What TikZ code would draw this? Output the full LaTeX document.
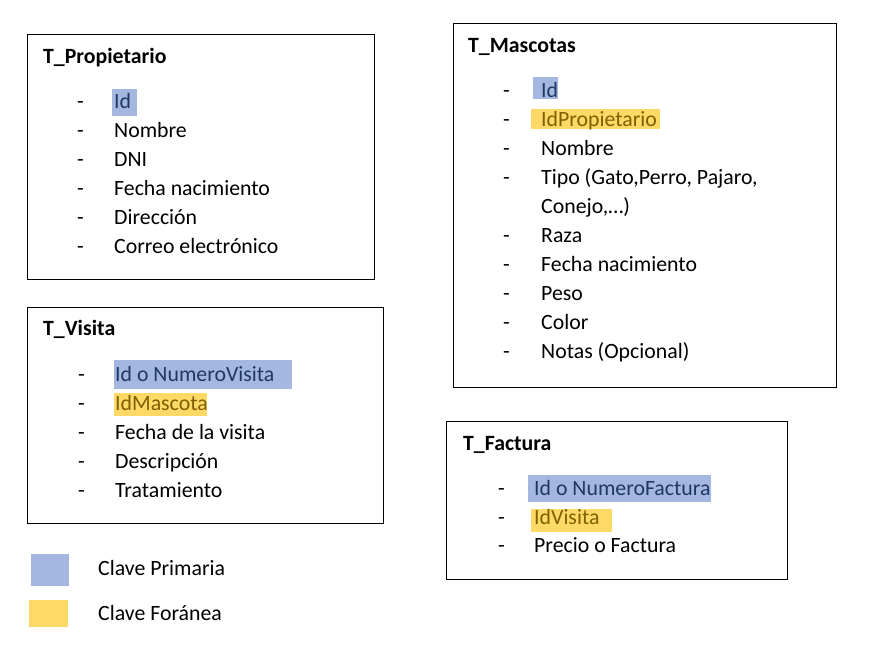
\documentclass[tikz,border=0pt]{standalone}
\usepackage{fontspec}
\setmainfont{Carlito}
\definecolor{pkfill}{HTML}{A3B7E0}
\definecolor{fkfill}{HTML}{FFD966}
\definecolor{pktext}{HTML}{1F3864}
\definecolor{fktext}{HTML}{7F6000}
\begin{document}
\begin{tikzpicture}[x=1pt,y=-1pt,
  tbl/.style={draw=black, line width=1.3pt, inner sep=0pt, anchor=north west},
  ttl/.style={font=\bfseries\fontsize{21.8}{26}\selectfont, anchor=base west, inner sep=0pt},
  itm/.style={font=\fontsize{21.8}{26}\selectfont, anchor=base west, inner sep=0pt},
  pkitm/.style={itm, text=pktext},
  fkitm/.style={itm, text=fktext},
  pk/.style={fill=pkfill, inner sep=0pt, anchor=north west},
  fk/.style={fill=fkfill, inner sep=0pt, anchor=north west}]
\useasboundingbox (0,0) rectangle (880,646);
\fill[white] (0,0) rectangle (880,646);

% ---------- tables ----------
\node[tbl, minimum width=347pt, minimum height=245pt] (tprop) at (27,34) {};
\node[tbl, minimum width=383pt, minimum height=364pt] (tmasc) at (453,23) {};
\node[tbl, minimum width=356pt, minimum height=216pt] (tvis) at (27,307) {};
\node[tbl, minimum width=341pt, minimum height=158pt] (tfac) at (446,421) {};

% ---------- highlights ----------
\node[pk, minimum width=25pt, minimum height=27pt] (hp1) at (112,89) {};
\node[pk, minimum width=25pt, minimum height=22pt] (hm1) at (533,77) {};
\node[fk, minimum width=129pt, minimum height=20pt] (hm2) at (531,109) {};
\node[pk, minimum width=178pt, minimum height=29pt] (hv1) at (114,360) {};
\node[fk, minimum width=93pt, minimum height=23pt] (hv2) at (114,393) {};
\node[pk, minimum width=183pt, minimum height=27pt] (hf1) at (528,475) {};
\node[fk, minimum width=81pt, minimum height=23pt] (hf2) at (531,509) {};

% ---------- T_Propietario ----------
\node[ttl] (tp) at (43,63) {T\_Propietario};
\node[itm] (dp1) at (77,108) {-};
\node[itm] (dp2) at (77,137) {-};
\node[itm] (dp3) at (77,166) {-};
\node[itm] (dp4) at (77,195) {-};
\node[itm] (dp5) at (77,224) {-};
\node[itm] (dp6) at (77,253) {-};
\node[pkitm] (p1) at (114,108) {Id};
\node[itm] (p2) at (114,137) {Nombre};
\node[itm] (p3) at (114,166) {DNI};
\node[itm] (p4) at (114,195) {Fecha nacimiento};
\node[itm] (p5) at (114,224) {Dirección};
\node[itm] (p6) at (114,253) {Correo electrónico};

% ---------- T_Mascotas ----------
\node[ttl] (tm) at (468,52) {T\_Mascotas};
\node[itm] (dm1) at (503,97) {-};
\node[itm] (dm2) at (503,126) {-};
\node[itm] (dm3) at (503,155) {-};
\node[itm] (dm4) at (503,184) {-};
\node[itm] (dm5) at (503,242) {-};
\node[itm] (dm6) at (503,271) {-};
\node[itm] (dm7) at (503,300) {-};
\node[itm] (dm8) at (503,329) {-};
\node[itm] (dm9) at (503,358) {-};
\node[pkitm] (m1) at (541,97) {Id};
\node[fkitm] (m2) at (541,126) {IdPropietario};
\node[itm] (m3) at (541,155) {Nombre};
\node[itm] (m4) at (541,184) {Tipo (Gato,Perro, Pajaro,};
\node[itm] (m4b) at (541,213) {Conejo,…)};
\node[itm] (m5) at (541,242) {Raza};
\node[itm] (m6) at (541,271) {Fecha nacimiento};
\node[itm] (m7) at (541,300) {Peso};
\node[itm] (m8) at (541,329) {Color};
\node[itm] (m9) at (541,358) {Notas (Opcional)};

% ---------- T_Visita ----------
\node[ttl] (tv) at (43,335) {T\_Visita};
\node[itm] (dv1) at (78,381) {-};
\node[itm] (dv2) at (78,410) {-};
\node[itm] (dv3) at (78,439) {-};
\node[itm] (dv4) at (78,468) {-};
\node[itm] (dv5) at (78,497) {-};
\node[pkitm] (v1) at (115,381) {Id o NumeroVisita};
\node[fkitm] (v2) at (115,410) {IdMascota};
\node[itm] (v3) at (115,439) {Fecha de la visita};
\node[itm] (v4) at (115,468) {Descripción};
\node[itm] (v5) at (115,497) {Tratamiento};

% ---------- T_Factura ----------
\node[ttl] (tf) at (463,450) {T\_Factura};
\node[itm] (df1) at (498,495) {-};
\node[itm] (df2) at (498,524) {-};
\node[itm] (df3) at (498,552) {-};
\node[pkitm] (f1) at (534,495) {Id o NumeroFactura};
\node[fkitm] (f2) at (534,524) {IdVisita};
\node[itm] (f3) at (534,552) {Precio o Factura};

% ---------- legend ----------
\node[pk, minimum width=38pt, minimum height=32pt] (lpk) at (31,554) {};
\node[fk, minimum width=39pt, minimum height=27pt] (lfk) at (29,600) {};
\node[itm] (lpkt) at (98,575) {Clave Primaria};
\node[itm] (lfkt) at (98,620) {Clave Foránea};
\end{tikzpicture}
\end{document}
